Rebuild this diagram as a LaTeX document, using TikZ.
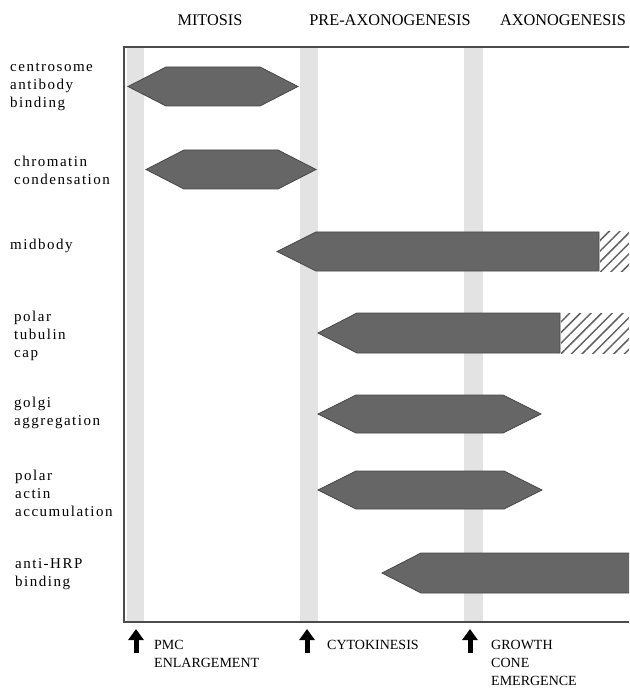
\documentclass[tikz,border=0pt]{standalone}
\usepackage{fontspec}
\setmainfont{Liberation Serif}
\newfontfamily\rowfont[LetterSpace=10]{Liberation Serif}
\usetikzlibrary{patterns.meta, arrows.meta}

\begin{document}
\begin{tikzpicture}[x=1pt, y=-1pt,
	band/.style={fill=black!11, draw=none},
	bar/.style={fill=black!60, draw=black!72, line width=0.8pt},
	hatch/.style={draw=none, pattern={Lines[angle=45, distance=7.5pt, line width=1.5pt]}, pattern color=black!62},
	phase/.style={font=\fontsize{16.3}{18}\selectfont},
	row/.style={anchor=west, align=left, inner sep=0pt, font=\rowfont\fontsize{15}{18}\selectfont},
	event/.style={anchor=north west, align=left, inner sep=0pt, font=\fontsize{14}{18}\selectfont},
	marker/.style={-{Triangle[length=11pt, width=15pt]}, line width=5pt}]
	\useasboundingbox (0,0) rectangle (629,692);
	\clip (0,0) rectangle (629,692);

	% phases
	\node [phase] (mitosis) at (210,20) {MITOSIS};
	\node [phase] (preaxo) at (390,20) {PRE-AXONOGENESIS};
	\node [phase] (axo) at (563,20) {AXONOGENESIS};

	% light bands and frame
	\fill [band] (127,47) rectangle (144,622);
	\fill [band] (300,47) rectangle (318,622);
	\fill [band] (464,47) rectangle (483,622);
	\draw [draw=black!70, line width=1.3pt] (124,47) rectangle (660,622);

	% rows
	\node [row] (centrosome) at (10,87) {centrosome\\antibody\\binding};
	\node [row] (chromatin) at (14,170) {chromatin\\condensation};
	\node [row] (midbody) at (10,246) {midbody};
	\node [row] (tubulin) at (14,336) {polar\\tubulin\\cap};
	\node [row] (golgi) at (14,413) {golgi\\aggregation};
	\node [row] (actin) at (15,493) {polar\\actin\\accumulation};
	\node [row] (antihrp) at (15,574) {anti-HRP\\binding};

	% bars
	\draw [bar] (128,86.5) -- (166,67) -- (260,67) -- (298,86.5) -- (260,106) -- (166,106) -- cycle;
	\draw [bar] (146,169.5) -- (184,150) -- (278,150) -- (316,169.5) -- (278,189) -- (184,189) -- cycle;
	\draw [bar] (277,251.5) -- (316,232) -- (599,232) -- (599,271) -- (316,271) -- cycle;
	\fill [hatch] (600,232) rectangle (660,271);
	\draw [bar] (318,333) -- (357,313) -- (560,313) -- (560,353) -- (357,353) -- cycle;
	\fill [hatch] (561,313) rectangle (660,353);
	\draw [bar] (318,414) -- (356,395) -- (503,395) -- (541,414) -- (503,433) -- (356,433) -- cycle;
	\draw [bar] (318,490) -- (356,471) -- (504,471) -- (542,490) -- (504,509) -- (356,509) -- cycle;
	\draw [bar] (382,573) -- (421,553) -- (660,553) -- (660,593) -- (421,593) -- cycle;

	% events
	\coordinate (pmcTail) at (136,653);
	\coordinate (pmcHead) at (136,629);
	\coordinate (cytoTail) at (307,653);
	\coordinate (cytoHead) at (307,629);
	\coordinate (coneTail) at (470,653);
	\coordinate (coneHead) at (470,629);
	\draw [marker] (pmcTail) -- (pmcHead);
	\draw [marker] (cytoTail) -- (cytoHead);
	\draw [marker] (coneTail) -- (coneHead);
	\node [event] (pmc) at (154,640) {PMC\\ENLARGEMENT};
	\node [event] (cyto) at (327,640) {CYTOKINESIS};
	\node [event] (cone) at (491,640) {GROWTH\\CONE\\EMERGENCE};
\end{tikzpicture}
\end{document}
